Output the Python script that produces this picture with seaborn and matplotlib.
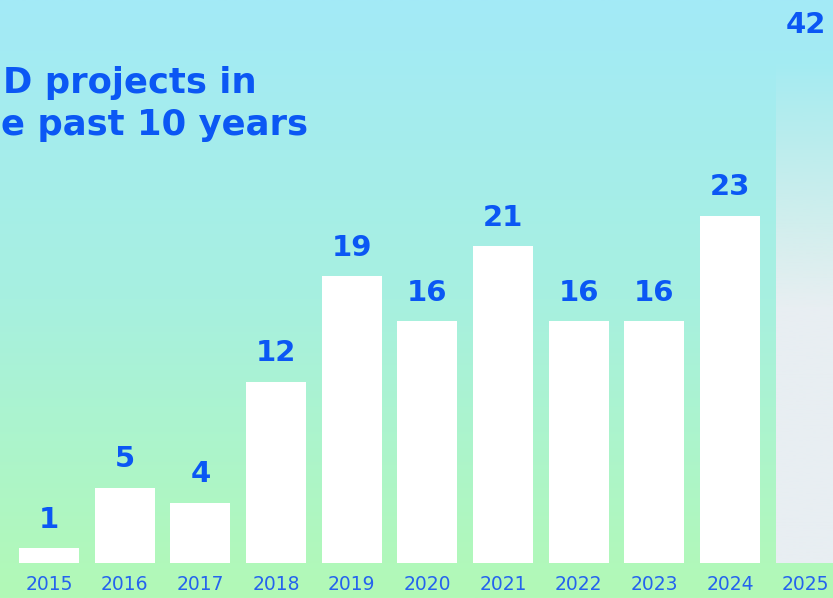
import numpy as np
import pandas as pd
import matplotlib
matplotlib.use("Agg")
import matplotlib.pyplot as plt
from matplotlib.colors import LinearSegmentedColormap, to_rgb
import seaborn as sns

years = ["2015", "2016", "2017", "2018", "2019", "2020", "2021", "2022", "2023", "2024", "2025"]
projects = [1, 5, 4, 12, 19, 16, 21, 16, 16, 23, 42]
title_lines = ["D projects in", "e past 10 years"]

BLUE = "#0B57F4"
YEAR_BLUE = "#2563EE"

sns.set_theme(style="white")
plt.rcParams["font.family"] = ["DejaVu Sans"]

W, H = 833, 598
fig = plt.figure(figsize=(W / 100, H / 100), dpi=100)
ax = fig.add_axes([0, 0, 1, 1])

df = pd.DataFrame({"year": years, "projects": projects})
sns.barplot(data=df, x="year", y="projects", color="white", width=0.793,
            linewidth=0, saturation=1, ax=ax, zorder=2)

# axes span the whole canvas: 75.67 px per category, 15.1 px per project
px_x, px_y = 75.67, 15.1
x0, y0 = -49 / px_x, -35 / px_y
x1, y1 = (W - 49) / px_x, (H - 35) / px_y
ax.set_xlim(x0, x1)
ax.set_ylim(y0, y1)
ax.axis("off")

# gradient background, cyan at top to mint green at bottom
bg = LinearSegmentedColormap.from_list("bg", ["#A3EAF7", "#A7F0E0", "#B2F9B6"])
grad = np.linspace(0, 1, 256).reshape(-1, 1)
ax.imshow(grad, cmap=bg, aspect="auto", extent=[x0, x1, y0, y1], zorder=0)

# the 2025 bar fades out towards the top
last = ax.patches[-1]
last.set_facecolor("none")
rgb = to_rgb("#E8EEF2")
ys = np.linspace(y1, y0, 400)
alpha = np.clip((33.3 - ys) / (33.3 - 17.0), 0, 1)
img = np.zeros((400, 1, 4))
img[..., :3] = rgb
img[..., 3] = alpha[:, None]
fade = ax.imshow(img, aspect="auto", extent=[x0, x1, y0, y1], zorder=1.5)
fade.set_clip_path(last)

for i, v in enumerate(projects):
    if i < len(projects) - 1:
        ax.text(i, v + 0.95, str(v), ha="center", va="bottom", color=BLUE,
                fontsize=21, fontweight="bold", zorder=3)
    else:
        ax.text(i, (563 - 25) / px_y, str(v), ha="center", va="center", color=BLUE,
                fontsize=21, fontweight="bold", zorder=3)
    ax.text(i, (563 - 585) / px_y, years[i], ha="center", va="center",
            color=YEAR_BLUE, fontsize=13.5, zorder=3)

fig.text(3 / W, (H - 93) / H, title_lines[0], ha="left", va="baseline",
         color=BLUE, fontsize=25.5, fontweight="bold")
fig.text(1 / W, (H - 135) / H, title_lines[1], ha="left", va="baseline",
         color=BLUE, fontsize=25.5, fontweight="bold")

fig.savefig("out.png", dpi=100)
